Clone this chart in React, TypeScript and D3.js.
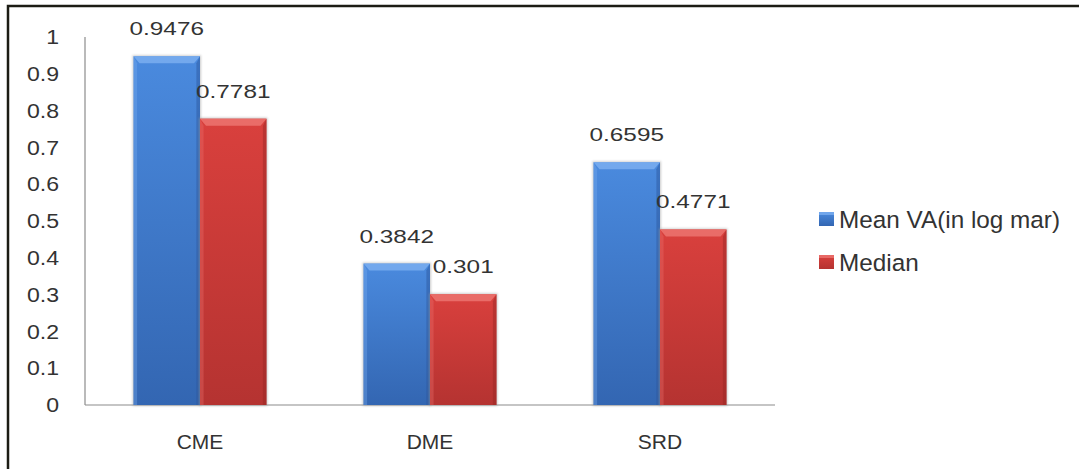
import React from "react";
import * as d3 from "d3";

const categories = ["CME", "DME", "SRD"];
const meanVA = [0.9476, 0.3842, 0.6595];
const median = [0.7781, 0.301, 0.4771];
const seriesNames = ["Mean VA(in log mar)", "Median"];
const yTicks = [0, 0.1, 0.2, 0.3, 0.4, 0.5, 0.6, 0.7, 0.8, 0.9, 1];

const W = 1079;
const H = 469;
const FONT = "'Liberation Sans', Arial, sans-serif";

const palettes = [
  { top: "#4a8ade", bottom: "#3366b2", light: "#7aaef0", dark: "#2a5598" },
  { top: "#d9403d", bottom: "#b53331", light: "#ec7470", dark: "#962624" },
];

function WideText(props: {
  x: number;
  y: number;
  anchor?: string;
  baseline?: string;
  size?: number;
  sx?: number;
  children: React.ReactNode;
}) {
  const { x, y, anchor = "middle", baseline = "alphabetic", size = 19, sx = 1, children } = props;
  return (
    <text
      transform={`translate(${x},${y}) scale(${sx},1)`}
      textAnchor={anchor}
      dominantBaseline={baseline}
      fontFamily={FONT}
      fontSize={size}
      fill="#333"
    >
      {children}
    </text>
  );
}

export default function App() {
  const left = 85;
  const right = 775;
  const y = d3.scaleLinear().domain([0, 1]).range([405, 37]);
  const x0 = d3
    .scaleBand()
    .domain(categories)
    .range([left, right])
    .paddingInner(0.4217)
    .paddingOuter(0.21085);
  const x1 = d3.scaleBand().domain(["0", "1"]).range([0, x0.bandwidth()]);
  const series = [meanVA, median];
  const b = 6;

  return (
    <svg width={W} height={H} style={{ display: "block", position: "absolute", left: 0, top: 0 }}>
      <defs>
        {palettes.map((p, i) => (
          <linearGradient key={i} id={`g${i}`} x1="0" y1="0" x2="0" y2="1">
            <stop offset="0" stopColor={p.top} />
            <stop offset="1" stopColor={p.bottom} />
          </linearGradient>
        ))}
        <filter id="sh" x="-10%" y="-10%" width="120%" height="120%">
          <feGaussianBlur stdDeviation="1.2" />
        </filter>
      </defs>
      <rect x={0} y={0} width={W} height={H} fill="#fff" />
      {/* outer frame */}
      <rect x={8} y={6} width={W + 10} height={H + 10} fill="none" stroke="#1c1c14" strokeWidth={2.5} />

      {/* axes */}
      <line x1={left} x2={left} y1={y(1)} y2={y(0)} stroke="#8c8c8c" strokeWidth={1.2} />
      <line x1={left} x2={right} y1={y(0)} y2={y(0)} stroke="#8c8c8c" strokeWidth={1.2} />

      {yTicks.map((t) => (
        <WideText key={t} x={59} y={y(t)} anchor="end" baseline="central" size={21} sx={1.1}>
          {d3.format("~g")(t)}
        </WideText>
      ))}

      {categories.map((c, ci) => (
        <g key={c}>
          {series.map((vals, si) => {
            const v = vals[ci];
            const bx = (x0(c) as number) + (x1(String(si)) as number);
            const bw = x1.bandwidth();
            const by = y(v);
            const bh = y(0) - by;
            const p = palettes[si];
            return (
              <g key={si}>
                <rect x={bx - 1} y={by - 1} width={bw + 2} height={bh + 2} fill="#999" opacity={0.5} filter="url(#sh)" />
                <rect x={bx} y={by} width={bw} height={bh} fill={`url(#g${si})`} />
                <polygon
                  points={`${bx},${by} ${bx + bw},${by} ${bx + bw - b},${by + b + 1} ${bx + b},${by + b + 1}`}
                  fill={p.light}
                  opacity={0.85}
                />
                <polygon
                  points={`${bx},${by} ${bx + b * 0.6},${by + b + 1} ${bx + b * 0.6},${y(0)} ${bx},${y(0)}`}
                  fill={p.light}
                  opacity={0.35}
                />
                <polygon
                  points={`${bx + bw},${by} ${bx + bw - b * 0.6},${by + b + 1} ${bx + bw - b * 0.6},${y(0)} ${bx + bw},${y(0)}`}
                  fill={p.dark}
                  opacity={0.45}
                />
                <WideText x={bx + bw / 2} y={by - 21} size={19} sx={1.28}>
                  {String(v)}
                </WideText>
              </g>
            );
          })}
          <WideText x={(x0(c) as number) + x0.bandwidth() / 2} y={441} baseline="central" size={21}>
            {c}
          </WideText>
        </g>
      ))}

      {/* legend */}
      {seriesNames.map((name, i) => {
        const ly = 219 + i * 43;
        const p = palettes[i];
        return (
          <g key={name}>
            <rect x={819} y={ly - 7} width={15} height={14} fill={`url(#g${i})`} />
            <rect x={819} y={ly - 7} width={15} height={3} fill={p.light} opacity={0.8} />
            <WideText x={839} y={ly} anchor="start" baseline="central" size={24.3}>
              {name}
            </WideText>
          </g>
        );
      })}
    </svg>
  );
}
